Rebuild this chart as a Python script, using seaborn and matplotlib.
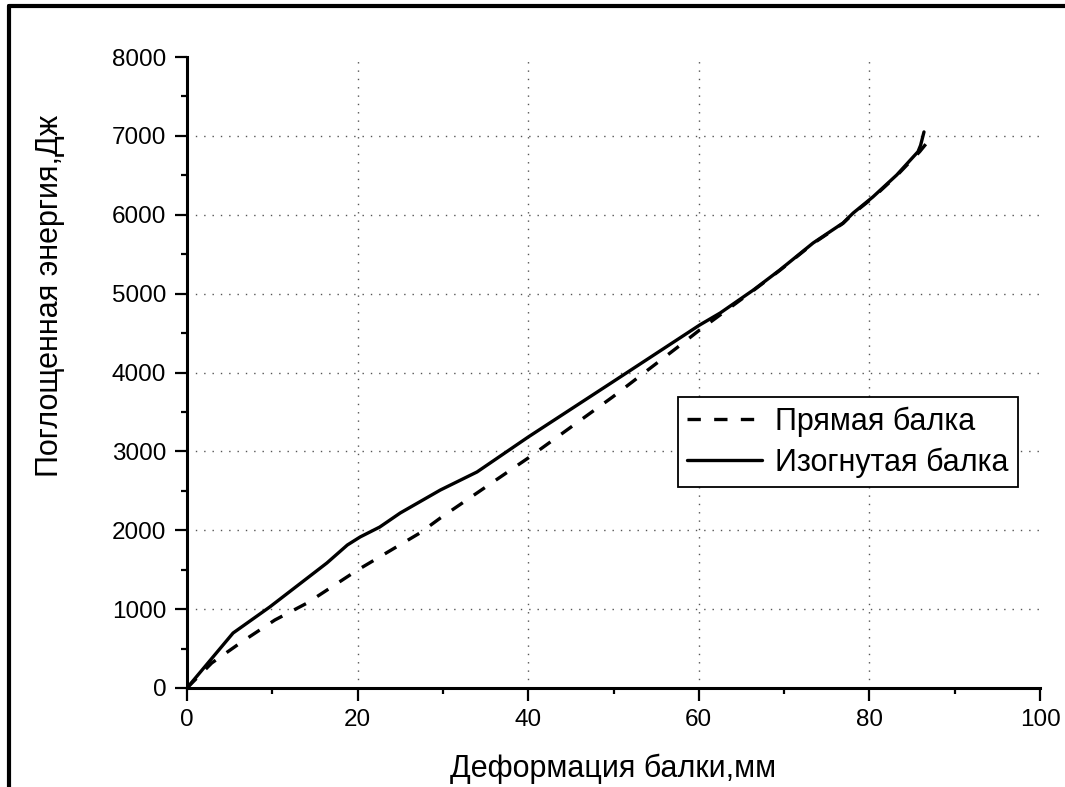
import matplotlib
matplotlib.use("Agg")
import matplotlib.pyplot as plt
from matplotlib.lines import Line2D
from matplotlib.ticker import MultipleLocator
import seaborn as sns
import pandas as pd

# Data
straight_x = [0, 2.9, 6.4, 10.3, 14.1, 20.0, 27.3, 29.7, 40.0, 49.9, 57.4, 60.1,
              66.4, 69.5, 73.4, 76.9, 78.1, 80.4, 83.2, 85.9, 86.8]
straight_y = [0, 317, 583, 862, 1078, 1496, 1965, 2155, 2916, 3690, 4311, 4539,
              5040, 5295, 5635, 5890, 6015, 6215, 6495, 6800, 6920]

curved_x = [0, 5.4, 9.7, 16.4, 18.8, 20.3, 22.6, 25.0, 29.7, 34.0, 40.0, 49.9, 60.1,
            62.5, 66.4, 69.5, 73.4, 76.9, 78.1, 80.4, 83.2, 85.7, 86.0, 86.4]
curved_y = [0, 697, 1027, 1585, 1813, 1915, 2041, 2219, 2510, 2739, 3182, 3880, 4602,
            4754, 5046, 5300, 5642, 5895, 6022, 6225, 6504, 6800, 6880, 7050]

series_names = ["Прямая балка", "Изогнутая балка"]
x_label = "Деформация балки,мм"
y_label = "Поглощенная энергия,Дж"
x_ticks = [0, 20, 40, 60, 80, 100]
y_ticks = [0, 1000, 2000, 3000, 4000, 5000, 6000, 7000, 8000]

sns.set_theme(style="white", rc={"text.color": "black", "axes.labelcolor": "black",
                                 "xtick.color": "black", "ytick.color": "black"})
plt.rcParams["font.family"] = ["Liberation Sans", "DejaVu Sans"]

fig = plt.figure(figsize=(10.65, 7.87), dpi=100)
ax = fig.add_axes([187/1065, 1-688/787, (1040-187)/1065, (688-57)/787])

df_s = pd.DataFrame({"x": straight_x, "y": straight_y})
df_c = pd.DataFrame({"x": curved_x, "y": curved_y})

sns.lineplot(data=df_s, x="x", y="y", sort=False, estimator=None, ax=ax,
             color="black", linewidth=2.4)
sns.lineplot(data=df_c, x="x", y="y", sort=False, estimator=None, ax=ax,
             color="black", linewidth=2.4)
ax.lines[0].set_dashes((4, 4))

ax.set_xlim(0, 100)
ax.set_ylim(0, 8000)
ax.set_xticks(x_ticks)
ax.set_yticks(y_ticks)
ax.xaxis.set_minor_locator(MultipleLocator(10))
ax.yaxis.set_minor_locator(MultipleLocator(500))

for s in ["top", "right"]:
    ax.spines[s].set_visible(False)
for s in ["left", "bottom"]:
    ax.spines[s].set_visible(True)
    ax.spines[s].set_color("black")
    ax.spines[s].set_linewidth(2.2)

ax.tick_params(which="major", direction="out", length=9, width=1.6, colors="black",
               labelsize=17.5, bottom=True, left=True, pad=6)
ax.tick_params(which="minor", direction="out", length=4.5, width=1.6, colors="black",
               bottom=True, left=True)

# dotted grid at major ticks (excluding axes edges)
for xv in x_ticks[1:-1]:
    ax.axvline(xv, color="#555555", linewidth=1.0, linestyle=(0, (1, 5)), zorder=0)
for yv in y_ticks[1:-1]:
    ax.axhline(yv, color="#555555", linewidth=1.0, linestyle=(0, (1, 5)), zorder=0)

ax.set_xlabel(x_label, fontsize=22, color="black")
ax.set_ylabel(y_label, fontsize=22, color="black")
ax.xaxis.set_label_coords(((448 + 778) / 2 - 187) / 853, (688 - 754) / 631)
ax.yaxis.set_label_coords((65 - 187) / 853, (688 - 296) / 631)

handles = [Line2D([], [], color="black", linewidth=2.4, dashes=(4, 4)),
           Line2D([], [], color="black", linewidth=2.4)]
leg = ax.legend(handles, series_names, loc="upper left",
                bbox_to_anchor=((678 - 187) / 853, (688 - 397) / 631),
                fontsize=22, frameon=True, fancybox=False, edgecolor="black",
                handlelength=2.45, handletextpad=0.42, borderpad=0.3,
                labelspacing=0.36, borderaxespad=0)
leg.get_frame().set_linewidth(1.3)
leg.get_frame().set_alpha(1)

# outer figure frame (left and top edges visible)
fig.add_artist(Line2D([9/1065, 9/1065], [0, 1-6/787], transform=fig.transFigure,
                      color="black", linewidth=3))
fig.add_artist(Line2D([9/1065, 1], [1-6/787, 1-6/787], transform=fig.transFigure,
                      color="black", linewidth=3))

fig.savefig("out.png", dpi=100)
